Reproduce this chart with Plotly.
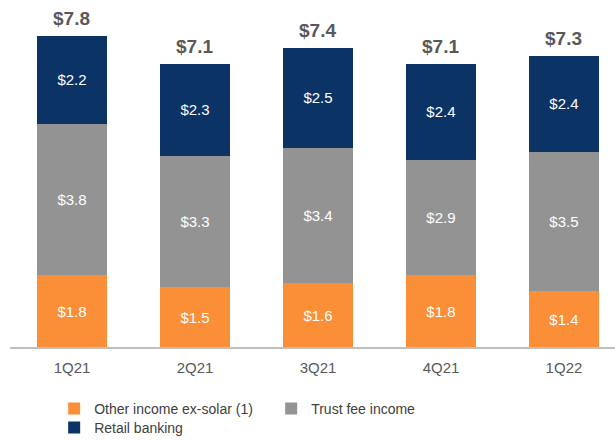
import plotly.graph_objects as go

categories = ["1Q21", "2Q21", "3Q21", "4Q21", "1Q22"]
other_income = [1.8, 1.5, 1.6, 1.8, 1.4]
trust_fee = [3.8, 3.3, 3.4, 2.9, 3.5]
retail_banking = [2.2, 2.3, 2.5, 2.4, 2.4]
totals = [7.8, 7.1, 7.4, 7.1, 7.3]

FONT = "Liberation Sans, Arial, sans-serif"
ORANGE = "#FB8F38"
GRAY = "#939393"
NAVY = "#0B3365"

fig = go.Figure()
for name, vals, col, leg in [
    ("Other income ex-solar (1)", other_income, ORANGE, "legend"),
    ("Trust fee income", trust_fee, GRAY, "legend"),
    ("Retail banking", retail_banking, NAVY, "legend2"),
]:
    fig.add_trace(go.Bar(
        x=categories, y=vals, name=name, marker_color=col, marker_line_width=0,
        width=0.57, legend=leg,
        text=[f"${v:.1f}" for v in vals], textposition="inside",
        insidetextanchor="middle",
        textfont=dict(color="white", size=15, family=FONT),
    ))

stack_tops = [a + b + c for a, b, c in zip(other_income, trust_fee, retail_banking)]
for cat, top, tot in zip(categories, stack_tops, totals):
    fig.add_annotation(
        x=cat, y=top, text=f"<b>${tot:.1f}</b>", showarrow=False,
        yanchor="bottom", yshift=5,
        font=dict(color="#595959", size=19, family=FONT),
    )

legend_common = dict(
    orientation="h", x=0.073, xanchor="left", yref="container", yanchor="top",
    traceorder="normal", entrywidth=172,
    font=dict(size=14, color="#404040", family=FONT),
    bgcolor="rgba(0,0,0,0)",
)

fig.update_layout(
    width=615, height=440,
    margin=dict(l=10, r=0, t=0, b=93, autoexpand=False),
    barmode="stack",
    paper_bgcolor="white", plot_bgcolor="white",
    font=dict(family=FONT, color="#595959"),
    legend=dict(y=0.107, **legend_common),
    legend2=dict(y=0.064, **legend_common),
    xaxis=dict(
        range=[-0.504, 4.415], showgrid=False, showline=True,
        linecolor="#BFBFBF", linewidth=1.5, ticks="",
        ticklabelstandoff=6,
        tickfont=dict(size=15, color="#595959", family=FONT),
    ),
    yaxis=dict(range=[0, 8.7], visible=False),
)

fig.write_html(
    "out.html",
    config={"displayModeBar": False},
    post_script="document.body.style.margin='0';document.body.style.overflow='hidden';",
)
